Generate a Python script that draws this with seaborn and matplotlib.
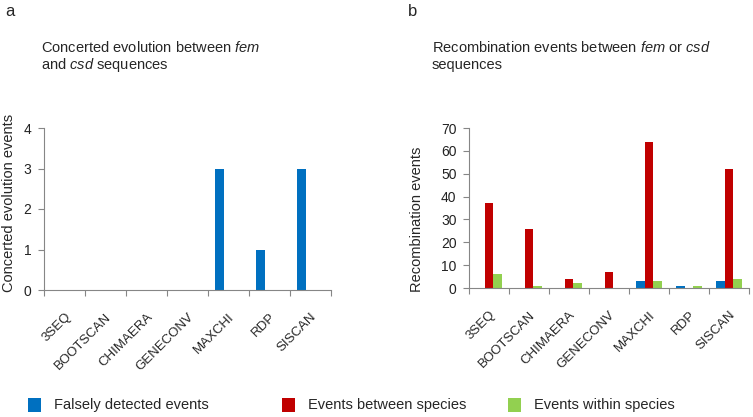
import pandas as pd
import seaborn as sns
import matplotlib.pyplot as plt
from matplotlib.patches import Patch

methods = ['3SEQ', 'BOOTSCAN', 'CHIMAERA', 'GENECONV', 'MAXCHI', 'RDP', 'SISCAN']
series = ['Falsely detected events', 'Events between species', 'Events within species']
colors = ['#0070C0', '#C00000', '#92D050']

# panel a: concerted evolution (only false detections are non-zero)
concerted_false = [0, 0, 0, 0, 3, 1, 3]
concerted_between = [0, 0, 0, 0, 0, 0, 0]
concerted_within = [0, 0, 0, 0, 0, 0, 0]

# panel b: recombination events
recomb_false = [0, 0, 0, 0, 3, 1, 3]
recomb_between = [37, 26, 4, 7, 64, 0, 52]
recomb_within = [6, 1, 2, 0, 3, 1, 4]


def to_long(false, between, within):
    rows = []
    for name, vals in zip(series, [false, between, within]):
        for m, v in zip(methods, vals):
            rows.append({'method': m, 'series': name, 'count': v})
    return pd.DataFrame(rows)


sns.set_style('white')
plt.rcParams['font.family'] = ['Liberation Sans', 'DejaVu Sans']
plt.rcParams['mathtext.fontset'] = 'custom'
plt.rcParams['mathtext.rm'] = 'Liberation Sans'
plt.rcParams['mathtext.it'] = 'Liberation Sans:italic'

fig = plt.figure(figsize=(7.53, 4.17), dpi=100)
ax_a = fig.add_axes([44 / 753, 127 / 417, 287 / 753, 162 / 417])
ax_b = fig.add_axes([469 / 753, 129 / 417, 280 / 753, 160 / 417])

panels = [
    (ax_a, to_long(concerted_false, concerted_between, concerted_within),
     'Concerted evolution events', 4, 1, (-0.122, 0.54)),
    (ax_b, to_long(recomb_false, recomb_between, recomb_within),
     'Recombination events', 70, 10, (-0.184, 0.43)),
]

for ax, df, ylab, ymax, step, lab_xy in panels:
    sns.barplot(data=df, x='method', y='count', hue='series', hue_order=series,
                palette=colors, saturation=1, width=0.66, linewidth=0,
                legend=False, ax=ax)
    ax.set_xlim(-0.5, len(methods) - 0.5)
    ax.set_ylim(0, ymax)
    ax.set_yticks(range(0, ymax + 1, step))
    ax.set_xlabel('')
    ax.set_ylabel(ylab, fontsize=10.5, va='center')
    ax.yaxis.set_label_coords(*lab_xy)
    for s in ['top', 'right']:
        ax.spines[s].set_visible(False)
    for s in ['left', 'bottom']:
        ax.spines[s].set_color('#868686')
        ax.spines[s].set_linewidth(0.8)
    ax.set_xticks([i - 0.5 for i in range(len(methods) + 1)], minor=False)
    ax.set_xticklabels([''] * (len(methods) + 1))
    ax.set_xticks(range(len(methods)), minor=True)
    ax.set_xticklabels(methods, minor=True, rotation=45, ha='right',
                       rotation_mode='anchor', fontsize=9.5)
    ax.tick_params(axis='x', which='major', direction='out', length=4,
                   color='#868686', bottom=True)
    ax.tick_params(axis='x', which='minor', length=0, pad=15)
    ax.tick_params(axis='y', direction='out', length=4, color='#868686',
                   left=True, labelsize=10, pad=5, labelcolor='#222222')

fig.text(5 / 753, 1 - 12 / 417, 'a', fontsize=12, va='center', ha='left')
fig.text(408 / 753, 1 - 12 / 417, 'b', fontsize=12, va='center', ha='left')
fig.text(41 / 753, 1 - 47 / 417, 'Concerted evolution between $fem$',
         fontsize=10.5, va='center', ha='left')
fig.text(41 / 753, 1 - 65 / 417, 'and $csd$ sequences',
         fontsize=10.5, va='center', ha='left')
fig.text(432 / 753, 1 - 47 / 417, 'Recombination events between $fem$ or $csd$',
         fontsize=10.5, va='center', ha='left')
fig.text(432 / 753, 1 - 65 / 417, 'sequences',
         fontsize=10.5, va='center', ha='left')

legend_x = [15 / 753, 269 / 753, 495 / 753]
for name, col, x in zip(series, colors, legend_x):
    fig.legend(handles=[Patch(facecolor=col, edgecolor='none')], labels=[name],
               loc='center left', bbox_to_anchor=(x, 1 - 405 / 417),
               frameon=False, fontsize=10.5, handlelength=0.9,
               handleheight=1.1, handletextpad=0.9)

fig.savefig('out.png', dpi=100)
